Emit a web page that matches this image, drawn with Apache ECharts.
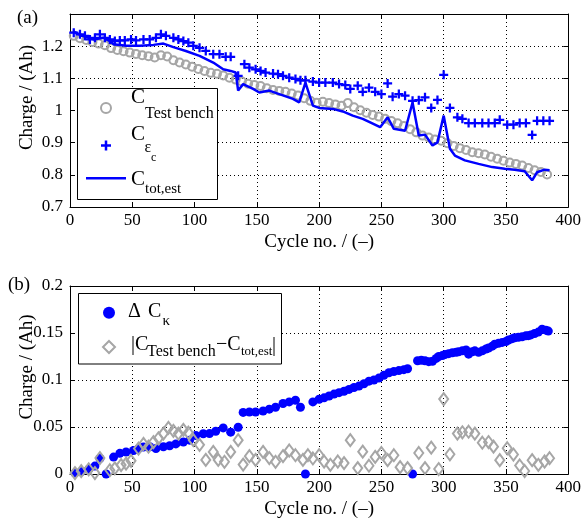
<!DOCTYPE html>
<html><head><meta charset="utf-8">
<script src="https://cdn.jsdelivr.net/npm/echarts@6/dist/echarts.min.js"></script>
<style>html,body{margin:0;padding:0;background:#fff}#c{width:584px;height:520px}</style>
</head><body><div id="c"></div>
<script>
// ---------- DATA ----------
const tbCycle = [3,8,13,18,23,28,33,38,43,48,53,58,63,68,73,78,83,88,93,98,103,108,113,118,123,128,133,138,143,148,153,158,163,168,173,178,183,188,193,198,203,208,213,218,223,228,233,238,243,248,253,258,263,268,273,278,283,288,293,298,303,308,313,318,323,328,333,338,343,348,353,358,363,368,373,378,383];
const tbVal = [1.232,1.225,1.219,1.213,1.208,1.203,1.194,1.188,1.184,1.180,1.176,1.172,1.169,1.165,1.172,1.168,1.156,1.149,1.143,1.136,1.129,1.123,1.117,1.114,1.109,1.102,1.096,1.090,1.083,1.079,1.076,1.069,1.064,1.061,1.058,1.053,1.047,1.038,1.030,1.024,1.027,1.023,1.019,1.015,1.023,1.010,1.001,0.993,0.986,0.981,0.974,0.967,0.960,0.952,0.942,0.932,0.922,0.916,0.910,0.906,0.898,0.890,0.883,0.877,0.870,0.867,0.863,0.856,0.850,0.844,0.838,0.834,0.829,0.821,0.814,0.809,0.801];

const epsCycle = [3,8,12,16,20,24,28,32,36,40,44,49,53,59,64,69,73,77,83,87,91,95,99,104,109,115,120,125,129,135,140,144,149,153,157,163,167,171,176,181,185,189,195,200,205,211,216,221,225,231,235,240,245,250,255,259,264,269,275,280,285,290,295,300,305,311,315,320,325,331,336,341,345,351,356,361,366,371,375,380,385];
const epsVal = [1.242,1.237,1.232,1.221,1.226,1.237,1.226,1.221,1.216,1.218,1.218,1.221,1.218,1.221,1.221,1.226,1.237,1.232,1.226,1.221,1.216,1.211,1.201,1.195,1.185,1.175,1.175,1.167,1.167,1.108,1.144,1.133,1.128,1.123,1.118,1.115,1.113,1.108,1.102,1.098,1.094,1.094,1.090,1.087,1.087,1.087,1.082,1.079,1.067,1.077,1.058,1.071,1.058,1.051,1.084,1.043,1.051,1.046,1.030,1.032,1.041,1.008,1.033,1.111,1.008,0.979,0.974,0.961,0.961,0.961,0.961,0.961,0.971,0.956,0.956,0.961,0.961,0.924,0.968,0.968,0.968];

const totCycle = [3,10,19,27,32,35,45,56,67,75,83,93,104,115,123,129,133,135,139,147,152,160,168,179,184,189,195,200,211,219,227,235,241,249,255,260,269,275,280,285,291,295,300,305,309,317,328,339,349,357,365,371,375,381,385];
const totVal = [1.245,1.232,1.221,1.226,1.216,1.206,1.201,1.201,1.204,1.208,1.197,1.185,1.170,1.149,1.128,1.123,1.118,1.062,1.082,1.067,1.056,1.062,1.051,1.036,1.025,1.087,1.015,1.008,1.005,0.997,0.984,0.974,0.963,0.948,0.979,0.943,0.937,1.025,0.922,0.925,0.891,0.901,0.984,0.881,0.860,0.845,0.834,0.824,0.819,0.816,0.811,0.783,0.808,0.816,0.814];

const dkCycle = [4,9,15,20,24,29,35,40,45,51,55,59,64,69,75,80,85,91,96,101,107,112,117,123,129,135,139,144,149,155,160,165,171,176,181,185,189,195,200,204,208,212,216,220,224,228,232,236,240,244,248,252,256,260,264,268,271,275,279,282,285,288,291,294,296,299,301,304,307,310,312,315,318,320,323,325,328,331,334,336,339,341,344,347,350,352,355,357,360,363,366,368,370,373,376,379,382,384];
const dkVal = [0.001,0.0025,0.005,0.0084,0.0165,0,0.018,0.022,0.0234,0.025,0.027,0.0287,0.029,0.027,0.029,0.030,0.032,0.034,0.036,0.041,0.0428,0.043,0.0455,0.049,0.0445,0.0497,0.0655,0.066,0.066,0.067,0.069,0.071,0.075,0.0767,0.0784,0.071,0,0.0767,0.0795,0.081,0.083,0.085,0.0865,0.088,0.090,0.092,0.0935,0.096,0.0988,0.100,0.102,0.105,0.1077,0.109,0.110,0.111,0.112,0,0.1205,0.121,0.1205,0.1195,0.120,0.123,0.125,0.126,0.127,0.128,0.129,0.1295,0.130,0.131,0.132,0.1275,0.130,0.131,0.1295,0.131,0.133,0.134,0.136,0.138,0.139,0.140,0.141,0.1425,0.144,0.145,0.1455,0.146,0.147,0.1472,0.148,0.1495,0.151,0.154,0.153,0.152];

const dfCycle = [4,9,15,20,24,32,36,41,45,49,55,59,63,67,71,75,79,83,87,91,95,99,104,109,115,119,124,129,135,139,144,149,155,160,165,171,176,181,187,191,195,200,204,209,215,220,225,231,235,240,245,250,255,260,265,271,280,285,290,296,300,305,311,315,320,325,331,336,340,345,351,356,361,365,371,376,381,385];
const dfVal = [0.001,0.003,0.005,0.001,0.017,0.004,0.006,0.0095,0.011,0.014,0.027,0.032,0.029,0.034,0.038,0.043,0.049,0.046,0.043,0.047,0.044,0.036,0.031,0.015,0.0235,0.015,0.013,0.0235,0.036,0.010,0.019,0.015,0.0235,0.017,0.013,0.019,0.025,0.020,0.015,0.020,0.0165,0.020,0.0133,0.0098,0.0133,0.0116,0.036,0.0063,0.0238,0.0088,0.0182,0.0224,0.0147,0.020,0.0073,0.0063,0.0224,0.0063,0.028,0.0053,0.0797,0.021,0.043,0.0444,0.045,0.043,0.0333,0.034,0.0291,0.0147,0.0274,0.0207,0.0091,0.0032,0.0147,0.0098,0.0133,0.0168];

const xTickLabels = ['0','50','100','150','200','250','300','350','400'];
const yTopTickLabels = ['0.7','0.8','0.9','1','1.1','1.2',''];
const yBotTickLabels = ['0','0.05','0.1','0.15','0.2'];

// ---------- CHART ----------
const FONT = '"Liberation Serif","Times New Roman",serif';
const BLUE = '#0000ff', GRAY = '#a6a6a6';
const pair = (xs, ys) => xs.map((x, i) => [x, ys[i]]);
const chart = echarts.init(document.getElementById('c'), null, {renderer: 'canvas'});

function xAx(gi, pos, main) {
  return {
    type: 'value', gridIndex: gi, position: pos, min: 0, max: 400, interval: 50,
    axisLine: {show: true, onZero: false, lineStyle: {color: '#000', width: 1}},
    axisTick: {show: true, inside: true, length: 5, lineStyle: {color: '#000'}},
    axisLabel: {show: main, color: '#000', fontFamily: FONT, fontSize: 17, margin: 5,
      formatter: v => xTickLabels[Math.round(v / 50)]},
    splitLine: {show: main, lineStyle: {type: [1, 3], color: '#000', width: 1}},
    name: main ? 'Cycle no. / (\u2013)' : '', nameLocation: 'middle', nameGap: 26, nameMoveOverlap: false,
    nameTextStyle: {color: '#000', fontFamily: FONT, fontSize: 19}
  };
}
function yAx(gi, pos, main, min, max, step, labels) {
  return {
    type: 'value', gridIndex: gi, position: pos, min: min, max: max, interval: step,
    axisLine: {show: true, onZero: false, lineStyle: {color: '#000', width: 1}},
    axisTick: {show: true, inside: true, length: 5, lineStyle: {color: '#000'}},
    axisLabel: {show: main, color: '#000', fontFamily: FONT, fontSize: 17, margin: 7,
      formatter: v => labels[Math.round((v - min) / step)]},
    splitLine: {show: main, lineStyle: {type: [1, 3], color: '#000', width: 1}},
    name: main ? 'Charge / (Ah)' : '', nameLocation: 'middle', nameGap: 33, nameMoveOverlap: false,
    nameTextStyle: {color: '#000', fontFamily: FONT, fontSize: 19, padding: [0, 0, 0, 26]}
  };
}

// legend label pieces: [text, x, y, fontSize]
const legendALabels = [
  ['C', 131, 97.5, 21], ['Test bench', 145, 114, 16],
  ['C', 131, 134, 21], ['\u03b5', 144.5, 148, 16], ['c', 151, 158, 12],
  ['C', 131, 179, 21], ['tot,est', 145, 189, 15]
];
const legendBLabels = [
  ['\u0394', 128, 312, 20], ['C', 148, 312, 20], ['\u03ba', 162.5, 321, 15],
  ['|C', 131, 345, 20], ['Test bench', 147, 351.5, 16], ['\u2212C', 216, 345, 20],
  ['tot,est', 241, 351.5, 13], ['|', 272, 346, 20]
];
const textEl = t => ({type: 'text', x: t[1], y: t[2], z: 6,
  style: {text: t[0], font: t[3] + 'px ' + FONT, fill: '#000',
    align: 'left', verticalAlign: 'middle', textAlign: 'left', textVerticalAlign: 'middle'}});

const plusPath = 'path://M3.75,0h2.5v3.75h3.75v2.5h-3.75v3.75h-2.5v-3.75h-3.75v-2.5h3.75z';
const lineIcon = 'path://M0,0h40v2.5h-40z';

const option = {
  animation: false,
  backgroundColor: '#fff',
  grid: [
    {left: 70, right: 14, top: 14, height: 193},
    {left: 70, right: 14, top: 286, height: 188}
  ],
  xAxis: [xAx(0, 'bottom', true), xAx(0, 'top', false), xAx(1, 'bottom', true), xAx(1, 'top', false)],
  yAxis: [
    yAx(0, 'left', true, 0.7, 1.3, 0.1, yTopTickLabels),
    yAx(0, 'right', false, 0.7, 1.3, 0.1, yTopTickLabels),
    yAx(1, 'left', true, 0, 0.2, 0.05, yBotTickLabels),
    yAx(1, 'right', false, 0, 0.2, 0.05, yBotTickLabels)
  ],
  legend: [
    {
      left: 86, top: 102, orient: 'vertical', padding: 0, itemWidth: 40, itemHeight: 10, itemGap: 26.5,
      selectedMode: false, z: 5,
      data: ['C_Test bench', 'C_eps', {name: 'C_tot,est', icon: lineIcon}],
      formatter: () => '', textStyle: {fontSize: 8, lineHeight: 8}
    },
    {
      left: 102, top: 306.7, orient: 'vertical', padding: 0, itemWidth: 12, itemHeight: 12, itemGap: 21.3,
      selectedMode: false, z: 5,
      data: ['dCk', 'diff'],
      formatter: () => '', textStyle: {fontSize: 8, lineHeight: 8}
    }
  ],
  graphic: [
    {type: 'text', x: 17, y: 9, style: {text: '(a)', font: '19px ' + FONT, fill: '#000'}},
    {type: 'text', x: 8, y: 276, style: {text: '(b)', font: '19px ' + FONT, fill: '#000'}},
    {type: 'rect', z: 4, shape: {x: 77.5, y: 88.5, width: 140, height: 111},
      style: {fill: '#fff', stroke: '#000', lineWidth: 1}},
    {type: 'rect', z: 4, shape: {x: 78.5, y: 293.5, width: 203, height: 70.5},
      style: {fill: '#fff', stroke: '#000', lineWidth: 1}}
  ].concat(legendALabels.map(textEl), legendBLabels.map(textEl)),
  series: [
    {name: 'C_Test bench', type: 'scatter', xAxisIndex: 0, yAxisIndex: 0, data: pair(tbCycle, tbVal),
      symbol: 'circle', symbolSize: 8,
      itemStyle: {color: 'rgba(255,255,255,0)', borderColor: GRAY, borderWidth: 2, opacity: 1}},
    {name: 'C_eps', type: 'scatter', xAxisIndex: 0, yAxisIndex: 0, data: pair(epsCycle, epsVal),
      symbol: plusPath, symbolSize: 9, itemStyle: {color: BLUE, opacity: 1}},
    {name: 'C_tot,est', type: 'line', xAxisIndex: 0, yAxisIndex: 0, data: pair(totCycle, totVal),
      symbol: 'none', lineStyle: {color: BLUE, width: 2.5}, itemStyle: {color: BLUE}},
    {name: 'dCk', type: 'scatter', xAxisIndex: 2, yAxisIndex: 2, data: pair(dkCycle, dkVal),
      symbol: 'circle', symbolSize: 9, itemStyle: {color: BLUE, opacity: 1}},
    {name: 'diff', type: 'scatter', xAxisIndex: 2, yAxisIndex: 2, data: pair(dfCycle, dfVal),
      symbol: 'diamond', symbolSize: [9, 12],
      itemStyle: {color: 'rgba(255,255,255,0)', borderColor: GRAY, borderWidth: 2, opacity: 1}}
  ]
};
chart.setOption(option);
</script></body></html>
